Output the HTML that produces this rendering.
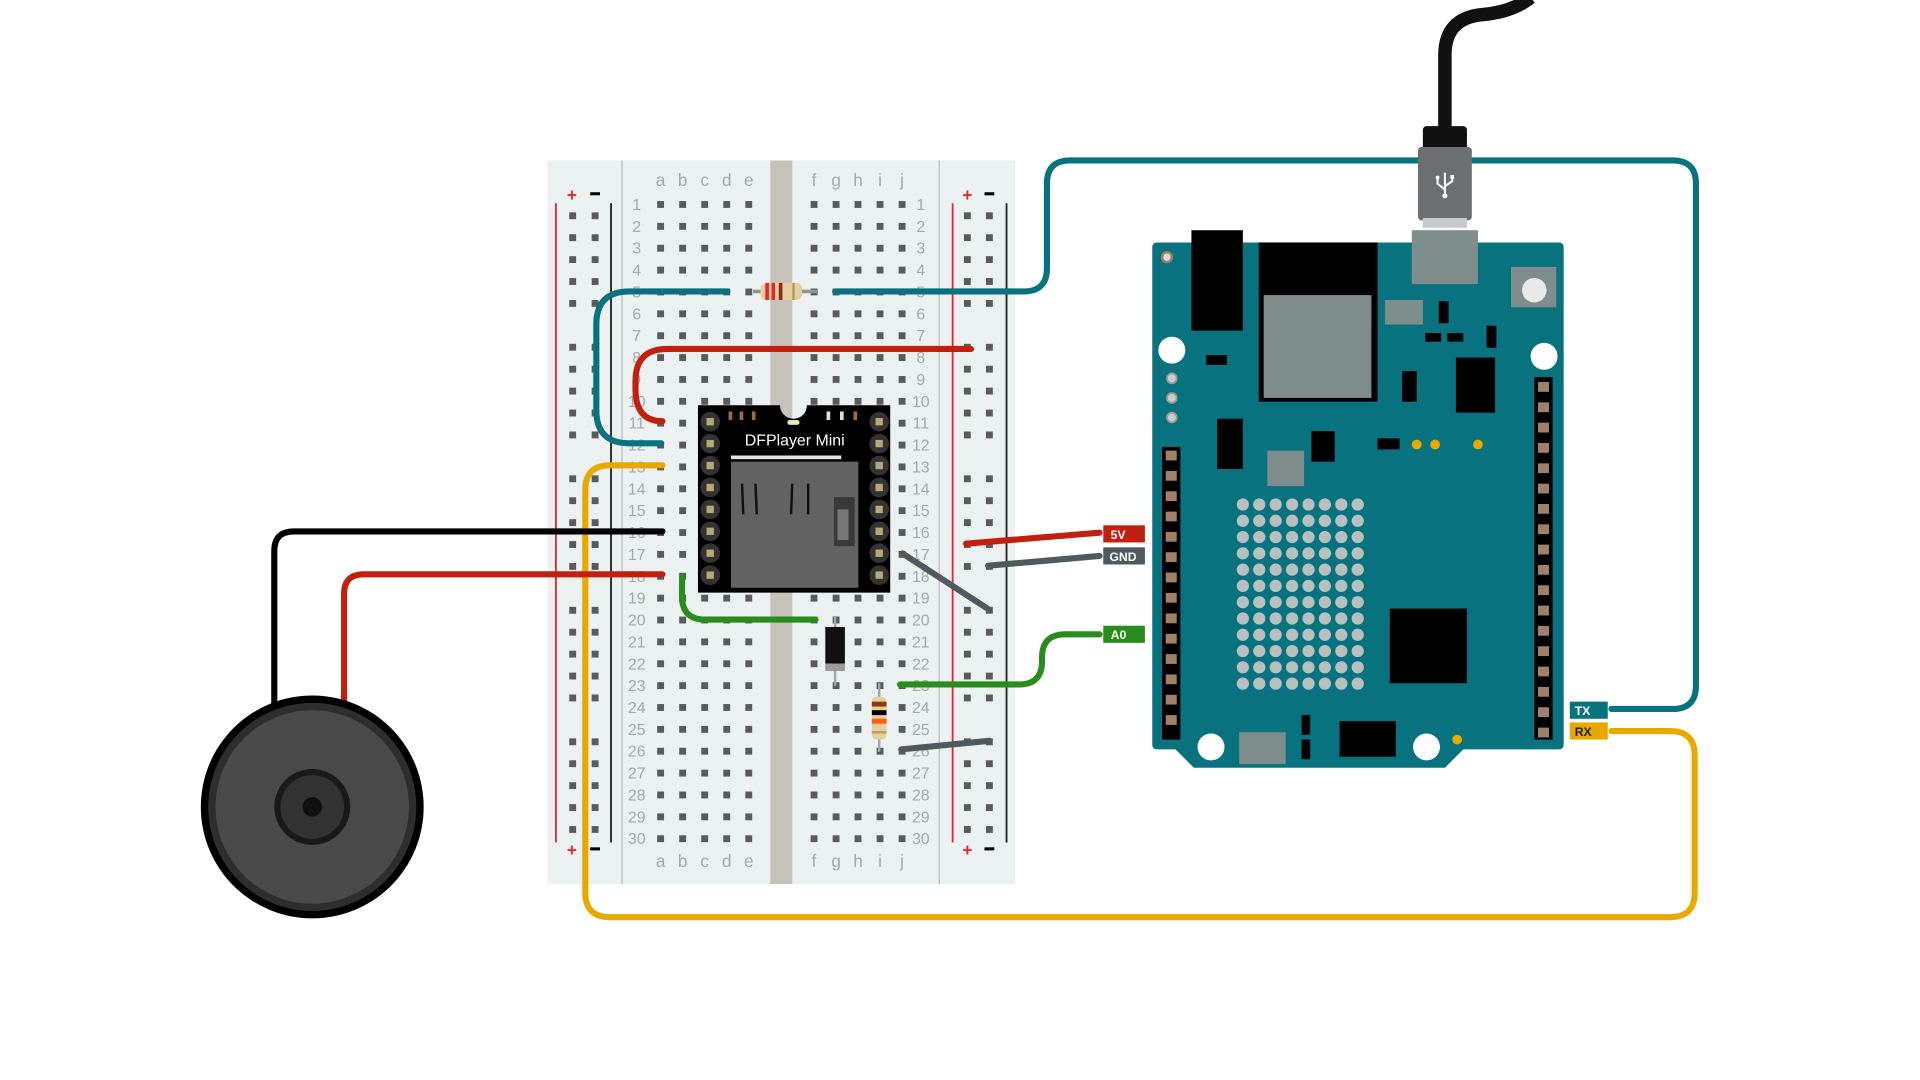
<!DOCTYPE html>
<html><head><meta charset="utf-8"><style>
html,body{margin:0;padding:0;background:#fff;width:1920px;height:1080px;overflow:hidden}
svg{display:block}
text{font-family:"Liberation Sans",sans-serif}
</style></head><body>
<svg id="s" width="1920" height="1080" viewBox="0 0 1568 882" xmlns="http://www.w3.org/2000/svg">
<rect x="447" y="131" width="382" height="591" fill="#ebf0f0"/>
<rect x="629" y="131" width="18" height="591" fill="#c6c2bb"/>
<line x1="508" y1="131" x2="508" y2="722" stroke="#b8bcbc" stroke-width="1"/>
<line x1="767" y1="131" x2="767" y2="722" stroke="#b8bcbc" stroke-width="1"/>
<line x1="454" y1="166" x2="454" y2="688" stroke="#e8262b" stroke-width="1.5"/>
<line x1="499" y1="166" x2="499" y2="688" stroke="#222" stroke-width="1.5"/>
<line x1="778" y1="166" x2="778" y2="688" stroke="#e8262b" stroke-width="1.5"/>
<line x1="822" y1="166" x2="822" y2="688" stroke="#222" stroke-width="1.5"/>
<g id="holes" fill="#5a5a5a"></g>
<g id="nums" fill="#a8a8a8" font-size="13" text-anchor="middle"></g>
<g fill="#e8262b" font-weight="bold" font-size="14" text-anchor="middle">
<text x="467" y="164">+</text><text x="790" y="164">+</text><text x="467" y="699">+</text><text x="790" y="699">+</text></g>
<g fill="#000"><rect x="482" y="157" width="8" height="2.5"/><rect x="804" y="157" width="8" height="2.5"/><rect x="482" y="692" width="8" height="2.5"/><rect x="804" y="692" width="8" height="2.5"/></g>

<line x1="615" y1="238" x2="668" y2="238" stroke="#8a9595" stroke-width="3"/>
<rect x="621" y="231" width="34" height="14" rx="5" fill="#e5cfa0"/>
<rect x="625" y="231" width="3" height="14" fill="#e8262b"/>
<rect x="630" y="231" width="3" height="14" fill="#e8262b"/>
<rect x="636" y="231" width="3" height="14" fill="#8b2b1a"/>
<rect x="647" y="231" width="2" height="14" fill="#b59a5a"/>

<path d="M570,331 H637 A11,11 0 0 0 659,331 H727 V484 H570 Z" fill="#000"/>
<rect x="597" y="377" width="104" height="103" fill="#636363"/>
<g fill="#e6e6e6"><rect x="597" y="372" width="90" height="3"/></g>
<g stroke="#111" stroke-width="2"><line x1="606" y1="395" x2="607" y2="420"/><line x1="617" y1="395" x2="618" y2="420"/><line x1="647" y1="395" x2="646" y2="420"/><line x1="660" y1="395" x2="660" y2="420"/></g>
<rect x="681" y="406" width="17" height="40" fill="#3a3a3a"/>
<rect x="684" y="416" width="9" height="25" fill="#777"/>
<text x="649" y="364" fill="#fff" font-size="13" text-anchor="middle">DFPlayer Mini</text>
<rect x="643" y="343" width="10" height="4" rx="2" fill="#e8e8b0"/>
<g fill="#a06a3a"><rect x="595" y="336" width="3" height="7"/><rect x="604" y="336" width="3" height="7"/><rect x="614" y="336" width="3" height="7"/><rect x="697" y="336" width="3" height="7"/></g>
<g fill="#ddd"><rect x="675" y="336" width="3" height="7"/><rect x="686" y="336" width="3" height="7"/></g>
<g id="dfpins"></g>

<g fill="none" stroke-linecap="round" stroke-width="5">
<path d="M594,238 H514 Q487,238 487,265 V335 Q487,362 514,362 H540" stroke="#08737f"/>
<path d="M682,238 H836 Q855,238 855,219 V150 Q855,131 874,131 H1366 Q1385,131 1385,150 V560 Q1385,579 1366,579 H1316" stroke="#08737f"/>
<path d="M793,285 H545 Q519,285 519,311 V318 Q519,344 541,344" stroke="#c1200e"/>
<path d="M541,380 H498 Q478,380 478,400 V729 Q478,749 498,749 H1364 Q1384,749 1384,729 V617 Q1384,597 1364,597 H1316" stroke="#e9a800"/>
<path d="M541,434 H240 Q224,434 224,450 V575" stroke="#000"/>
<path d="M541,469 H297 Q281,469 281,485 V575" stroke="#c1200e"/>
<path d="M557,471 V487 Q557,506 576,506 H666" stroke="#2a8c1c"/>
<path d="M735,559 H832 Q851,559 851,540 V537 Q851,518 870,518 H898" stroke="#2a8c1c"/>
<path d="M789,444 L898,435" stroke="#c1200e"/>
<path d="M807,462 L898,454" stroke="#4f5a5e"/>
<path d="M737,452 L808,498" stroke="#4f5a5e"/>
<path d="M736,612 L808,605" stroke="#4f5a5e"/>
</g>
<line x1="682" y1="503" x2="682" y2="560" stroke="#9aa" stroke-width="2"/>
<rect x="674" y="512" width="16" height="30" fill="#111"/>
<rect x="674" y="542" width="16" height="6" fill="#999"/>
<line x1="718" y1="558" x2="718" y2="614" stroke="#9aa" stroke-width="2"/>
<rect x="712" y="569" width="12" height="35" rx="4" fill="#e5cfa0"/>
<rect x="712" y="573" width="12" height="4" fill="#8b3a0a"/>
<rect x="712" y="580" width="12" height="4" fill="#000"/>
<rect x="712" y="587" width="12" height="4" fill="#ff5a10"/>
<rect x="712" y="597" width="12" height="2" fill="#b59a5a"/>

<g font-family="Liberation Mono,monospace" font-weight="bold" font-size="10" fill="#fff">
<rect x="901" y="429" width="34" height="14" fill="#c1200e"/><text x="907" y="440">5V</text>
<rect x="901" y="447" width="34" height="14" fill="#4f5a5e"/><text x="906" y="458">GND</text>
<rect x="901" y="511" width="34" height="14" fill="#2a8c1c"/><text x="907" y="522">A0</text>
<rect x="1282" y="573" width="31" height="14" fill="#08737f"/><text x="1286" y="584">TX</text>
<rect x="1282" y="590" width="31" height="14" fill="#e9a800"/><text x="1286" y="601" fill="#222">RX</text>
</g>

<circle cx="255" cy="659" r="91" fill="#000"/>
<circle cx="255" cy="659" r="85" fill="#2e2e2e"/>
<circle cx="255" cy="659" r="79" fill="#4a4a4a"/>
<circle cx="255" cy="659" r="31" fill="#1a1a1a"/>
<circle cx="255" cy="659" r="26" fill="#333"/>
<circle cx="255" cy="659" r="8" fill="#111"/>

<path d="M1180,110 V45 Q1180,15 1210,12 Q1235,10 1250,-2" fill="none" stroke="#111" stroke-width="11"/>
<rect x="1162" y="103" width="36" height="20" rx="3" fill="#111"/>
<rect x="1158" y="120" width="44" height="60" rx="3" fill="#6b6f70"/>
<rect x="1162" y="178" width="36" height="8" fill="#c5c9c9"/>
<g stroke="#fff" stroke-width="1.6" fill="none"><line x1="1180" y1="141" x2="1180" y2="160"/><path d="M1180,155 L1174,150 V146"/><path d="M1180,152 L1186,148 V145"/></g>
<circle cx="1180" cy="160" r="2" fill="#fff"/><circle cx="1174" cy="145" r="1.6" fill="#fff"/><rect x="1184.5" y="143" width="3" height="3" fill="#fff"/>

<path d="M945,198 H1273 Q1277,198 1277,202 V608 Q1277,612 1273,612 H1195 L1180,627 H975 L960,612 H945 Q941,612 941,608 V202 Q941,198 945,198 Z" fill="#08737f"/>
<rect x="1153" y="188" width="54" height="44" fill="#7f8c8c"/>
<rect x="973" y="188" width="42" height="82" fill="#000"/>
<rect x="1028" y="198" width="97" height="130" fill="#000"/>
<rect x="1032" y="241" width="88" height="84" fill="#7f8c8c"/>
<rect x="1234" y="218" width="37" height="33" fill="#7f8c8c"/>
<circle cx="1253" cy="237" r="10" fill="#e8eaea"/>
<g fill="#fff"><circle cx="957" cy="286" r="11"/><circle cx="1261" cy="291" r="11"/><circle cx="989" cy="610" r="11"/><circle cx="1165" cy="610" r="11"/></g>
<circle cx="953" cy="210" r="4" fill="#ddd" stroke="#a08060" stroke-width="2"/>
<g fill="#ccc" stroke="#999" stroke-width="1.5"><circle cx="957" cy="309" r="4"/><circle cx="957" cy="325" r="4"/><circle cx="957" cy="341" r="4"/></g>
<g fill="#000">
<rect x="985" y="290" width="17" height="8"/><rect x="994" y="342" width="21" height="41"/><rect x="1071" y="352" width="19" height="25"/>
<rect x="1125" y="358" width="18" height="9"/><rect x="1175" y="246" width="8" height="18"/><rect x="1164" y="272" width="13" height="7"/><rect x="1182" y="272" width="13" height="7"/>
<rect x="1214" y="266" width="8" height="18"/><rect x="1189" y="292" width="32" height="45"/><rect x="1145" y="303" width="12" height="25"/>
<rect x="1135" y="497" width="63" height="61"/><rect x="1063" y="584" width="7" height="16"/><rect x="1063" y="604" width="7" height="16"/><rect x="1094" y="589" width="46" height="29"/>
<rect x="949" y="365" width="15" height="239"/><rect x="1253" y="308" width="15" height="296"/>
</g>
<g fill="#7f8c8c"><rect x="1131" y="245" width="31" height="20"/><rect x="1035" y="368" width="30" height="29"/><rect x="1012" y="598" width="38" height="26"/></g>
<g fill="#e9a800"><circle cx="1157" cy="363" r="4"/><circle cx="1172" cy="363" r="4"/><circle cx="1207" cy="363" r="4"/><circle cx="1190" cy="604" r="4"/></g>
<g id="ard"></g>
</svg>
<script>
var NS="http://www.w3.org/2000/svg";
function el(p,t,a){var e=document.createElementNS(NS,t);for(var k in a)e.setAttribute(k,a[k]);p.appendChild(e);return e;}
var H=document.getElementById("holes"),N=document.getElementById("nums");
var cols=[539.5,557.5,575.5,593.5,611.5,664.8,682.8,700.7,718.7,736.7];
for(var r=0;r<30;r++){var y=167+r*17.86;
 for(var c=0;c<10;c++)el(H,"rect",{x:cols[c]-2.8,y:y-2.8,width:5.6,height:5.6});
 var t=el(N,"text",{x:520,y:y+4.5});t.textContent=r+1;
 t=el(N,"text",{x:752,y:y+4.5});t.textContent=r+1;}
var L="abcdefghij";
for(var c=0;c<10;c++){var t=el(N,"text",{x:cols[c],y:152,"font-size":14});t.textContent=L[c];t=el(N,"text",{x:cols[c],y:708,"font-size":14});t.textContent=L[c];}
for(var g=0;g<5;g++)for(var k=0;k<5;k++){var y=176.2+(g*6+k)*17.9;
 [467.7,486,790,808].forEach(function(x){el(H,"rect",{x:x-2.8,y:y-2.8,width:5.6,height:5.6});});}
var D=document.getElementById("dfpins");
for(var i=0;i<8;i++){var y=344.4+i*17.9;[580,718].forEach(function(x){el(D,"circle",{cx:x,cy:y,r:8,fill:"#333"});el(D,"rect",{x:x-3,y:y-3,width:6,height:6,fill:"#b8a878"});});}
var A=document.getElementById("ard");
var ly=[];for(var i=0;i<8;i++)ly.push(372+i*16.6);for(var i=0;i<6;i++)ly.push(505+i*16.6);
ly.forEach(function(y){el(A,"rect",{x:952,y:y-4,width:9,height:8,fill:"#a08068"});});
var ry=[];for(var i=0;i<10;i++)ry.push(316+i*16.6);for(var i=0;i<8;i++)ry.push(482+i*16.6);
ry.forEach(function(y){el(A,"rect",{x:1256,y:y-4,width:9,height:8,fill:"#a08068"});});
for(var r=0;r<12;r++)for(var c=0;c<8;c++)el(A,"circle",{cx:1015+c*13.4,cy:412+r*13.3,r:5,fill:"#b8c0bf"});
</script>
</body></html>
